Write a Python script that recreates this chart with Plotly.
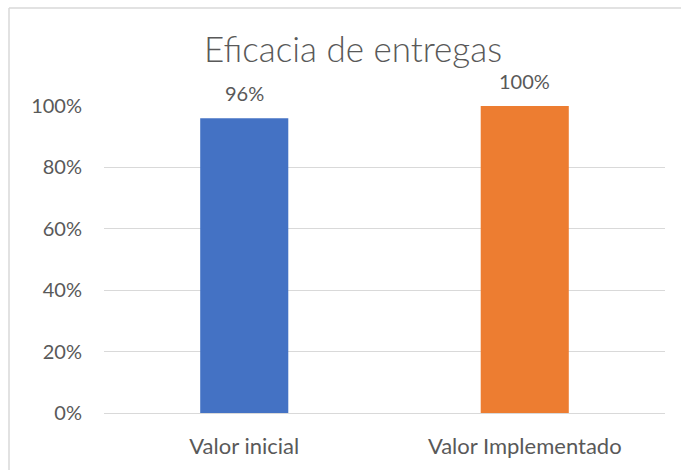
import plotly.graph_objects as go

categories = ["Valor inicial", "Valor Implementado"]
values = [0.96, 1.00]
labels = ["96%", "100%"]
colors = ["#4472C4", "#ED7D31"]
tick_vals = [0, 0.2, 0.4, 0.6, 0.8, 1.0]
tick_text = ["0%", "20%", "40%", "60%", "80%", "100%"]

FONT = "Lato, Carlito, Calibri, sans-serif"
GREY = "#595959"

fig = go.Figure(go.Bar(
    x=categories, y=values, marker_color=colors, marker_line_width=0,
    hoverinfo="skip",
))

for c, v, t in zip(categories, values, labels):
    fig.add_annotation(x=c, y=v, text=t, showarrow=False, yanchor="bottom",
                       yshift=11, font=dict(family=FONT, size=20, color=GREY))

W, H = 681, 470
L, R, T, B = 104, 16, 106, 57
pw, ph = W - L - R, H - T - B
def px(x):
    return (x - L) / pw
def py(y):
    return (H - B - y) / ph

fig.add_shape(type="line", xref="paper", yref="paper", x0=px(9), x1=px(W + 5),
              y0=py(8), y1=py(8), line=dict(color="#d9d9d9", width=1.5))
fig.add_shape(type="line", xref="paper", yref="paper", x0=px(9), x1=px(9),
              y0=py(8), y1=py(H + 5), line=dict(color="#d9d9d9", width=1.5))

fig.update_layout(
    width=W, height=H,
    margin=dict(l=L, r=R, t=T, b=B),
    paper_bgcolor="white", plot_bgcolor="white",
    bargap=0.686,
    showlegend=False,
    title=dict(text="Eficacia de entregas", x=353 / W, xanchor="center",
               y=1 - 50 / H, yanchor="middle",
               font=dict(family=FONT, size=35, color=GREY, weight=300)),
    xaxis=dict(showgrid=False, showline=True, linecolor="#d9d9d9", linewidth=1,
               tickfont=dict(family=FONT, size=22, color=GREY),
               ticklabelstandoff=14, ticks=""),
    yaxis=dict(range=[0, 1], tickvals=tick_vals, ticktext=tick_text,
               showgrid=True, gridcolor="#d9d9d9", gridwidth=1,
               zeroline=False, showline=False,
               tickfont=dict(family=FONT, size=20, color=GREY),
               ticklabelstandoff=21, ticks=""),
)

fig.write_html("out.html", config={"displayModeBar": False},
               post_script="document.body.style.margin='0';")
